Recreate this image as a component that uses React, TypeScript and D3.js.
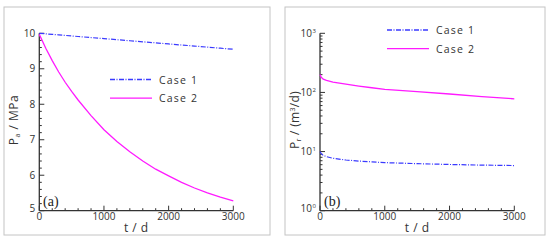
import React from 'react';
import * as d3 from 'd3';

// time axis (days)
const tA = [0, 100, 200, 300, 400, 500, 600, 800, 1000, 1200, 1400, 1600, 1800, 2000, 2200, 2400, 2600, 2800, 3000];
const paCase1 = [10.0, 9.985, 9.97, 9.955, 9.94, 9.925, 9.91, 9.88, 9.85, 9.82, 9.79, 9.76, 9.73, 9.7, 9.67, 9.64, 9.61, 9.58, 9.55];
const paCase2 = [9.97, 9.58, 9.23, 8.91, 8.62, 8.36, 8.12, 7.68, 7.28, 6.95, 6.66, 6.4, 6.17, 5.98, 5.8, 5.64, 5.5, 5.38, 5.28];

const tB = [0, 20, 50, 100, 200, 400, 600, 800, 1000, 1500, 2000, 2500, 3000];
const prCase1 = [10, 9.2, 8.6, 8.2, 7.7, 7.2, 6.9, 6.7, 6.5, 6.25, 6.05, 5.9, 5.8];
const prCase2 = [200, 180, 168, 160, 150, 138, 128, 120, 113, 103, 94, 85, 78];

const xTicks = [0, 1000, 2000, 3000];
const yTicksA = [5, 6, 7, 8, 9, 10];
const yTicksB = [1, 10, 100, 1000];
const legendLabels = ['Case 1', 'Case 2'];

const C1 = '#3a3aff';
const C2 = '#ff1aff';
const DASH = '5,1.5,1,1.5';
const FONT = '"Open Sans", "DejaVu Sans", sans-serif';
const AXIS = '#333';

type Pt = [number, number];

function Frame({ x, w }: { x: number; w: number }) {
  return <rect x={x} y={7} width={w} height={228} fill="none" stroke="#c4c4c4" strokeWidth={1} />;
}

function Legend({ x, y }: { x: number; y: number }) {
  return (
    <g>
      {legendLabels.map((l, i) => (
        <g key={l} transform={`translate(${x},${y + i * 18.7})`}>
          <line x1={0} x2={42} y1={0} y2={0} stroke={i === 0 ? C1 : C2} strokeWidth={1.3}
            strokeDasharray={i === 0 ? DASH : undefined} />
          <text x={49} y={4} fontSize={10.5} letterSpacing={1.2} fill="#333" fontFamily={FONT}>{l}</text>
        </g>
      ))}
    </g>
  );
}

function XAxis({ x }: { x: d3.ScaleLinear<number, number> }) {
  const y0 = 210.7;
  const minor = d3.range(0, 3001, 200).filter(v => v % 1000 !== 0);
  return (
    <g>
      <line x1={x(0)} x2={x(3000)} y1={y0} y2={y0} stroke={AXIS} strokeWidth={1.3} />
      {xTicks.map(v => (
        <g key={v}>
          <line x1={x(v)} x2={x(v)} y1={y0} y2={y0 - 5} stroke={AXIS} />
          <text x={x(v)} y={220} fontSize={10} textAnchor="middle" fill="#333" fontFamily={FONT}>{v}</text>
        </g>
      ))}
      {minor.map(v => (
        <line key={v} x1={x(v)} x2={x(v)} y1={y0} y2={y0 - 2.5} stroke={AXIS} />
      ))}
      <text x={(x(0) + x(3000)) / 2} y={232} fontSize={12} textAnchor="middle" letterSpacing={0.5}
        fill="#333" fontFamily={FONT}>t / d</text>
    </g>
  );
}

function PanelA() {
  const x = d3.scaleLinear().domain([0, 3000]).range([39.3, 233.3]);
  const y = d3.scaleLinear().domain([5, 10]).range([210.7, 33.3]);
  const line = d3.line<Pt>().x(d => x(d[0])).y(d => y(d[1]));
  const minor = d3.range(5, 10.001, 0.2).filter(v => Math.abs(v - Math.round(v)) > 0.01);
  return (
    <g>
      <Frame x={4} w={266} />
      <line x1={x(0)} x2={x(0)} y1={y(5)} y2={y(10)} stroke={AXIS} strokeWidth={1.3} />
      {yTicksA.map(v => (
        <g key={v}>
          <line x1={x(0)} x2={x(0) + 5} y1={y(v)} y2={y(v)} stroke={AXIS} />
          <text x={x(0) - 4} y={v === 5 ? y(v) + 1 : y(v) + 3.5} fontSize={10} textAnchor="end" fill="#333" fontFamily={FONT}>{v}</text>
        </g>
      ))}
      {minor.map(v => (
        <line key={v} x1={x(0)} x2={x(0) + 2.5} y1={y(v)} y2={y(v)} stroke={AXIS} />
      ))}
      <XAxis x={x} />
      <path d={line(tA.map((t, i) => [t, paCase1[i]] as Pt)) || ''} fill="none" stroke={C1} strokeWidth={1.2} strokeDasharray={DASH} />
      <path d={line(tA.map((t, i) => [t, paCase2[i]] as Pt)) || ''} fill="none" stroke={C2} strokeWidth={1.3} />
      <Legend x={110} y={79.5} />
      <text x={43} y={206} fontSize={14} fontFamily="'Liberation Serif', serif" fill="#222">(a)</text>
      <text transform="translate(18,120) rotate(-90)" fontSize={12} textAnchor="middle" fill="#333" fontFamily={FONT} letterSpacing={0.5}>
        P<tspan fontSize={7} dy={2}>a</tspan><tspan dy={-2}> / MPa</tspan>
      </text>
    </g>
  );
}

function PanelB() {
  const x = d3.scaleLinear().domain([0, 3000]).range([320, 514.3]);
  const y = d3.scaleLog().domain([1, 1000]).range([210.7, 33.3]);
  const line = d3.line<Pt>().x(d => x(d[0])).y(d => y(d[1]));
  const minor: number[] = [];
  [1, 10, 100].forEach(d => d3.range(2, 10).forEach(m => minor.push(d * m)));
  return (
    <g>
      <Frame x={285} w={260} />
      <line x1={x(0)} x2={x(0)} y1={y(1)} y2={y(1000)} stroke={AXIS} strokeWidth={1.3} />
      {yTicksB.map((v, i) => (
        <g key={v}>
          <line x1={x(0)} x2={x(0) + 5} y1={y(v)} y2={y(v)} stroke={AXIS} />
          <text x={x(0) - 8} y={i === 0 ? y(v) + 1 : y(v) + 3.5} fontSize={10} textAnchor="end" fill="#333" fontFamily={FONT}>10</text>
          <text x={x(0) - 7.5} y={i === 0 ? y(v) - 3 : y(v) - 0.5} fontSize={6} fill="#333" fontFamily={FONT}>{i}</text>
        </g>
      ))}
      {minor.map(v => (
        <line key={v} x1={x(0)} x2={x(0) + 2.5} y1={y(v)} y2={y(v)} stroke={AXIS} />
      ))}
      <XAxis x={x} />
      <path d={line(tB.map((t, i) => [t, prCase1[i]] as Pt)) || ''} fill="none" stroke={C1} strokeWidth={1.2} strokeDasharray={DASH} />
      <path d={line(tB.map((t, i) => [t, prCase2[i]] as Pt)) || ''} fill="none" stroke={C2} strokeWidth={1.3} />
      <Legend x={387} y={30} />
      <text x={324} y={206} fontSize={14} fontFamily="'Liberation Serif', serif" fill="#222">(b)</text>
      <text transform="translate(299,120) rotate(-90)" fontSize={12} textAnchor="middle" fill="#333" fontFamily={FONT} letterSpacing={0.3}>
        P<tspan fontSize={7} dy={2}>r</tspan><tspan dy={-2}> / (m</tspan><tspan fontSize={7} dy={-4}>3</tspan><tspan dy={4}>/d)</tspan>
      </text>
    </g>
  );
}

export default function App() {
  return (
    <svg width={550} height={242} style={{ position: 'absolute', left: 0, top: 0, background: '#fff' }}>
      <PanelA />
      <PanelB />
    </svg>
  );
}
